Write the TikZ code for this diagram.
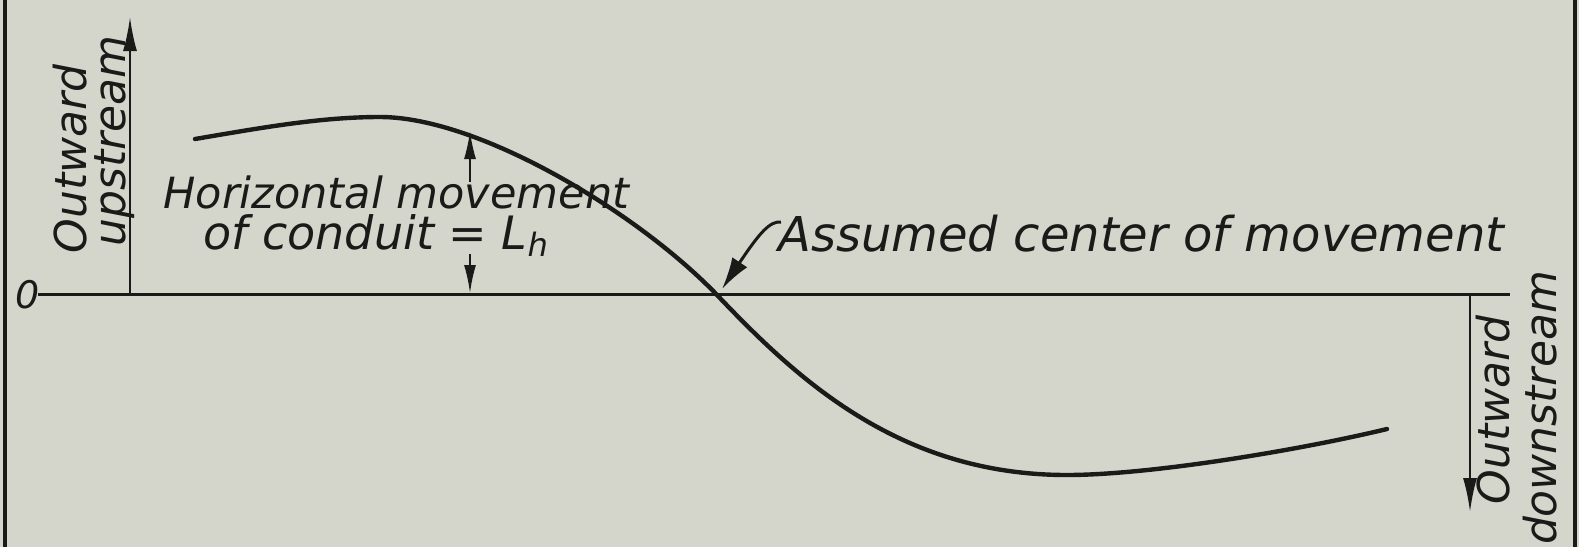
\documentclass[tikz,border=0pt]{standalone}
\usepackage{fontspec}
\setmainfont{DejaVu Sans}
\usetikzlibrary{arrows.meta}
\definecolor{paper}{HTML}{D4D6CC}
\definecolor{ink}{HTML}{1A1A18}
\begin{document}
\begin{tikzpicture}[x=0.5pt,y=-0.5pt,
  lbl/.style={inner sep=0pt,text=ink,font=\fontsize{22}{26}\selectfont\itshape},
  duallbl/.style={inner sep=0pt,text=ink,align=left,font=\fontsize{21.5}{20.5}\selectfont\itshape},
  biglbl/.style={inner sep=0pt,text=ink,font=\fontsize{24}{28}\selectfont\itshape},
  axisline/.style={draw=ink,line width=1.5pt},
  curveline/.style={draw=ink,line width=2.2pt,line cap=round},
  thinarrow/.style={draw=ink,line width=1pt,-{Latex[length=14pt,width=6pt]}},
  bigarrow/.style={draw=ink,line width=1.2pt,-{Latex[length=17pt,width=7pt]}},
  leader/.style={draw=ink,line width=1.5pt,-{Latex[length=16pt,width=9pt]}},
  border/.style={draw=ink,line width=2.2pt}]
\fill[paper] (0,0) rectangle (1579,547);
\useasboundingbox (0,0) rectangle (1579,547);
% borders
\coordinate (bl1) at (5,0); \coordinate (bl2) at (5,547);
\coordinate (br1) at (1575,0); \coordinate (br2) at (1575,547);
\draw[border] (bl1) -- (bl2);
\draw[border] (br1) -- (br2);
% axis
\coordinate (axL) at (38,294);
\coordinate (axR) at (1510,294);
\draw[axisline] (axL) -- (axR);
\node[inner sep=0pt,text=ink,font=\fontsize{19}{20}\selectfont\itshape] (zero) at (28,295) {0};
% left vertical arrow
\coordinate (upB) at (130,294);
\coordinate (upT) at (130,17);
\draw[bigarrow] (upB) -- (upT);
\node[lbl,rotate=90] (outL) at (70,159) {Outward};
\node[lbl,rotate=90] (upL) at (115,141) {upstream};
% right vertical arrow
\coordinate (dnT) at (1470,294);
\coordinate (dnB) at (1470,512);
\draw[bigarrow] (dnT) -- (dnB);
\node[lbl,rotate=90] (outR) at (1493,410) {Outward};
\node[lbl,rotate=90] (dnR) at (1540,408) {downstream};
% curve
\coordinate (c0) at (195,139);
\coordinate (c1) at (380,117);
\coordinate (c2) at (718,296);
\coordinate (c3) at (1067,475);
\coordinate (c4) at (1387,429);
\draw[curveline] (c0) .. controls (260,128) and (320,117) .. (c1)
  .. controls (480,117) and (640,214) .. (c2)
  .. controls (798,380) and (900,475) .. (c3)
  .. controls (1150,475) and (1300,450) .. (c4);
% dimension arrows
\coordinate (dimTop) at (470,131);
\coordinate (dimTopS) at (470,182);
\coordinate (dimBot) at (470,293);
\coordinate (dimBotS) at (470,254);
\draw[thinarrow] (dimTopS) -- (dimTop);
\draw[thinarrow] (dimBotS) -- (dimBot);
\node[duallbl,anchor=north west] (hor) at (163,175) {Horizontal movement\\\hspace*{20pt}{\fontsize{23}{20.5}\selectfont of conduit = L\textsubscript{h}}};
% assumed center
\node[biglbl,anchor=base west] (ctr) at (778,251) {Assumed center of movement};
\coordinate (ldS) at (781,222);
\coordinate (ldE) at (722,289);
\draw[leader] (ldS) .. controls (770,221) and (760,232) .. (ldE);
\end{tikzpicture}
\end{document}
